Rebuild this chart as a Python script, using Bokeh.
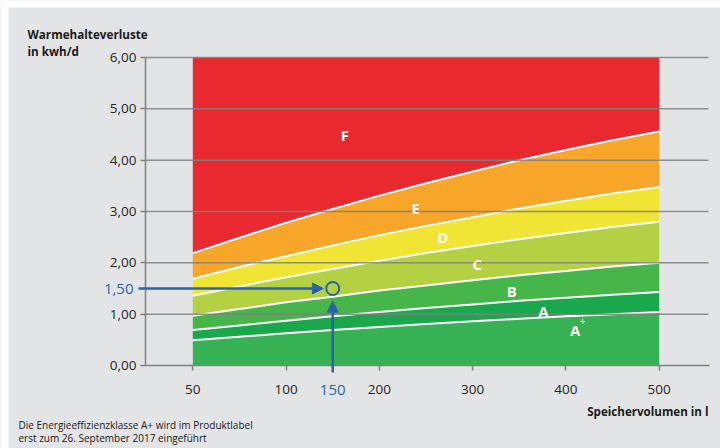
import numpy as np
from bokeh.plotting import figure
from bokeh.models import Range1d, FixedTicker, Label, Arrow, NormalHead, BoxAnnotation
from bokeh.embed import file_html
from bokeh.resources import INLINE
from bokeh.core.properties import value

# ---------------- data ----------------
volumes = [50, 75, 100, 150, 200, 250, 300, 350, 400, 450, 500]
loss_aplus = [0.49, 0.56, 0.63, 0.69, 0.75, 0.81, 0.86, 0.91, 0.96, 1.00, 1.04]
loss_a = [0.69, 0.78, 0.87, 0.96, 1.04, 1.12, 1.19, 1.26, 1.32, 1.38, 1.43]
loss_b = [0.97, 1.10, 1.23, 1.34, 1.46, 1.56, 1.66, 1.76, 1.84, 1.93, 2.00]
loss_c = [1.36, 1.54, 1.72, 1.88, 2.04, 2.19, 2.33, 2.46, 2.58, 2.70, 2.80]
loss_d = [1.69, 1.92, 2.13, 2.34, 2.54, 2.72, 2.89, 3.06, 3.21, 3.35, 3.48]
loss_e = [2.19, 2.49, 2.78, 3.05, 3.31, 3.55, 3.78, 4.00, 4.20, 4.39, 4.56]
loss_max = 6.0

tick_volumes = [50, 100, 200, 300, 400, 500]
tick_volume_labels = ["50", "100", "200", "300", "400", "500"]
y_ticks = [0, 1, 2, 3, 4, 5, 6]
y_tick_labels = ["0,00", "1,00", "2,00", "3,00", "4,00", "5,00", "6,00"]

class_names = ["F", "E", "D", "C", "B", "A", "A"]
label_volumes = [163, 239, 268, 305, 342, 376, 410]
label_losses = [4.50, 3.06, 2.51, 1.98, 1.46, 1.07, 0.70]

point_volume = 150
point_loss = 1.50
point_volume_label = "150"
point_loss_label = "1,50"

title_lines = ["Warmehalteverluste", "in kwh/d"]
x_title = "Speichervolumen in l"
footer_lines = ["Die Energieeffizienzklasse A+ wird im Produktlabel",
                "erst zum 26. September 2017 eingeführt"]

# ---------------- styles ----------------
W, H = 720, 448
BG = "#e3e4e6"
GRID = "#808080"
BLUE = "#2b63a7"
band_colors = ["#36b154", "#19a84b", "#46b64a", "#b3d143", "#f0e534", "#f8a62a", "#e9282f"]
FONT = "Open Sans"

# layout of the drawing (pixels): 50 l at x=192.3, 93.28 px per tick step,
# 0 kWh/d at y=365, 51.33 px per kWh/d
X0, XS, Y0, YS = 192.3, 93.28, 365.0, 51.33
def sx(px):
    return (px - X0) / XS
def sy(py):
    return (Y0 - py) / YS

# the original chart spaces 50,100,200,...,500 evenly along the axis
tick_pos = np.arange(len(tick_volumes), dtype=float)
def vpos(v):
    return np.interp(v, tick_volumes, tick_pos)

u = vpos(volumes)
u_point = float(vpos(point_volume))
ax_left, ax_right = sx(145), sx(709)

p = figure(width=W, height=H, output_backend="svg", toolbar_location=None,
           x_range=Range1d(sx(0), sx(W)), y_range=Range1d(sy(H), sy(0)),
           min_border=0, min_border_left=0, min_border_right=0,
           min_border_top=0, min_border_bottom=0,
           background_fill_color=BG, border_fill_color=BG)
p.outline_line_color = None
p.xgrid.visible = False
p.ygrid.visible = False

# bands
bounds = [np.zeros(len(u)), np.array(loss_aplus), np.array(loss_a), np.array(loss_b),
          np.array(loss_c), np.array(loss_d), np.array(loss_e), np.full(len(u), loss_max)]
for i in range(7):
    p.varea(x=u, y1=bounds[i], y2=bounds[i + 1], fill_color=band_colors[i])
for i in range(1, 7):
    p.line(u, bounds[i], line_color="white", line_width=2)

# horizontal grid lines at the y ticks, spanning the axis length
gy = y_ticks[1:]
p.segment(x0=[ax_left] * len(gy), x1=[sx(708)] * len(gy), y0=gy, y1=gy,
          line_color=GRID, line_width=1.5, line_alpha=0.85)

# axes placed at fixed positions inside the canvas
p.yaxis.fixed_location = ax_left
p.yaxis.bounds = (y_ticks[0], y_ticks[-1])
p.yaxis.ticker = FixedTicker(ticks=y_ticks)
p.yaxis.major_label_overrides = {t: l for t, l in zip(y_ticks, y_tick_labels)}
p.xaxis.fixed_location = 0
p.xaxis.bounds = (ax_left, ax_right)
p.xaxis.ticker = FixedTicker(ticks=list(tick_pos))
p.xaxis.major_label_overrides = {float(t): l for t, l in zip(tick_pos, tick_volume_labels)}
for ax in (p.xaxis, p.yaxis):
    ax.axis_line_color = GRID
    ax.axis_line_width = 1.5
    ax.major_tick_line_color = GRID
    ax.major_tick_line_width = 1.5
    ax.major_tick_out = 5
    ax.major_tick_in = 0
    ax.minor_tick_line_color = None
    ax.major_label_text_font = FONT
    ax.major_label_text_font_size = "13.5px"
    ax.major_label_text_color = "#262626"
p.xaxis.major_label_standoff = 14
p.yaxis.major_label_standoff = 4

# class letters
p.text(x=vpos(label_volumes), y=label_losses, text=class_names,
       text_color="#fbfbf5", text_font=value(FONT), text_font_style="bold",
       text_font_size="15px", text_align="center", text_baseline="middle")
p.text(x=[vpos(label_volumes[-1]) + 0.08], y=[label_losses[-1] + 0.17], text=["+"],
       text_color="#fbfbf5", text_font=value(FONT), text_font_size="10px",
       text_align="center", text_baseline="middle")

# highlighted point with arrows
head = dict(size=11, fill_color=BLUE, line_color=BLUE)
p.add_layout(Arrow(end=NormalHead(**head), x_start=sx(138), y_start=point_loss,
                   x_end=u_point - 0.10, y_end=point_loss,
                   line_color=BLUE, line_width=2.5))
p.add_layout(Arrow(end=NormalHead(**head), x_start=u_point, y_start=sy(372),
                   x_end=u_point, y_end=point_loss - 0.25,
                   line_color=BLUE, line_width=2.5))
p.scatter([u_point], [point_loss], marker="circle", size=13, fill_color=None,
          line_color=BLUE, line_width=2)

def lab(x, y, t, **kw):
    opts = dict(text_font=FONT, text_font_size="12px", text_color="#1a1a1a",
                text_baseline="middle")
    opts.update(kw)
    p.add_layout(Label(x=x, y=y, text=t, **opts))

lab(sx(133), point_loss, point_loss_label, text_color=BLUE, text_font_size="15px",
    text_align="right")
lab(u_point, sy(389), point_volume_label, text_color=BLUE, text_font_size="15px",
    text_align="center")
lab(sx(27), sy(33), title_lines[0], text_font_style="bold", text_font_size="11.7px")
lab(sx(27), sy(50), title_lines[1], text_font_style="bold", text_font_size="11.7px")
lab(sx(708), sy(410.7), x_title, text_font_style="bold", text_font_size="11.6px",
    text_align="right")
lab(sx(18), sy(424), footer_lines[0], text_font_size="10px")
lab(sx(18), sy(437), footer_lines[1], text_font_size="10px")

# white page edge at top and left, as in the original picture
p.add_layout(BoxAnnotation(right=sx(8), fill_color="white", fill_alpha=1,
                           line_color=None, level="overlay"))
p.add_layout(BoxAnnotation(bottom=sy(7), fill_color="white", fill_alpha=1,
                           line_color=None, level="overlay"))

open("out.html", "w").write(file_html(p, INLINE))
